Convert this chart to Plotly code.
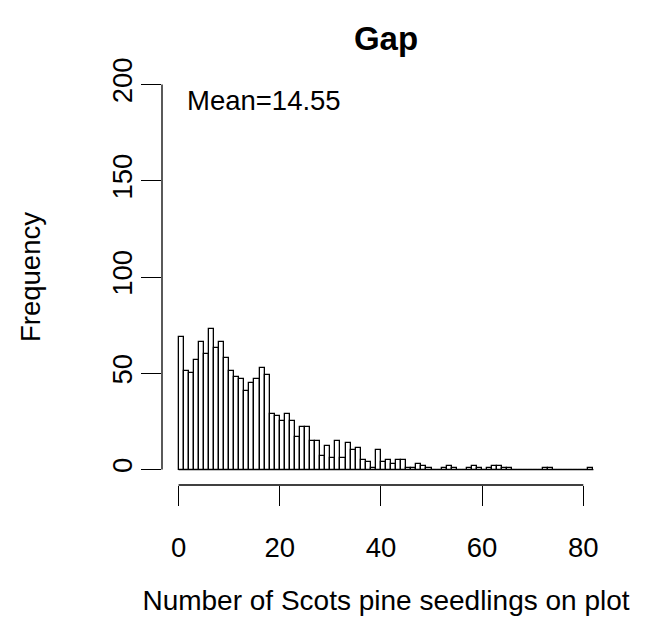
import plotly.graph_objects as go

# Histogram of seedlings per plot (bins of width 1 starting at 0)
bin_start = 0
bin_width = 1
counts = [69, 51, 50, 57, 66, 60, 73, 63, 66, 58,
          51, 48, 47, 41, 45, 47, 53, 49, 29, 28,
          25, 29, 25, 17, 22, 22, 15, 15, 7, 12,
          6, 15, 6, 14, 10, 11, 5, 4, 1, 10,
          4, 5, 3, 5, 5, 1, 1, 3, 2, 1,
          0, 0, 1, 2, 1, 0, 0, 1, 2, 1,
          0, 1, 2, 2, 1, 1, 0, 0, 0, 0,
          0, 0, 1, 1, 0, 0, 0, 0, 0, 0,
          0, 1]
mean_value = 14.55
x_ticks = [0, 20, 40, 60, 80]
y_ticks = [0, 50, 100, 150, 200]
title_text = "Gap"
x_title = "Number of Scots pine seedlings on plot"
y_title = "Frequency"

n_bins = len(counts)
edges = [bin_start + i * bin_width for i in range(n_bins + 1)]
centers = [(edges[i] + edges[i + 1]) / 2 for i in range(n_bins)]

FONT = "Liberation Sans, Arial, sans-serif"
FS = 27.5

fig = go.Figure()
# baseline drawn by zero-height bins in R
fig.add_trace(go.Scatter(x=[edges[0], edges[-1]], y=[0, 0], mode="lines",
                         line=dict(color="black", width=1.3), hoverinfo="skip",
                         showlegend=False))
fig.add_trace(go.Bar(x=centers, y=counts, width=[bin_width] * n_bins,
                     marker=dict(color="white", line=dict(color="black", width=1.3)),
                     showlegend=False))

xr = (edges[-1] - edges[0]) * 0.04
yr = (y_ticks[-1] - y_ticks[0]) * 0.04

fig.update_layout(
    width=664, height=639,
    margin=dict(l=162, r=54, t=69, b=154),
    paper_bgcolor="white", plot_bgcolor="white",
    font=dict(family=FONT, size=FS, color="black"),
    title=dict(text=title_text, x=0.5, xref="paper", y=1 - 38 / 639, yref="container",
               xanchor="center", yanchor="middle",
               font=dict(family=FONT, size=33, weight="bold", color="black")),
    bargap=0,
    xaxis=dict(range=[edges[0] - xr, edges[-1] + xr], tickvals=x_ticks,
               ticks="outside", ticklen=20, tickwidth=1.3, tickcolor="black",
               showline=False, showgrid=False, zeroline=False,
               ticklabelstandoff=18,
               title=dict(text=x_title, standoff=28, font=dict(size=28))),
    yaxis=dict(range=[y_ticks[0] - yr, y_ticks[-1] + yr], tickvals=y_ticks,
               ticks="outside", ticklen=20, tickwidth=1.3, tickcolor="black",
               showline=False, showgrid=False, zeroline=False, tickangle=-90,
               ticklabelstandoff=-2,
               title=dict(text=y_title, standoff=58, font=dict(size=FS))),
    annotations=[dict(text=f"Mean={mean_value}", x=16.9, y=191.5, xref="x", yref="y",
                      xanchor="center", yanchor="middle", showarrow=False,
                      font=dict(size=FS))],
    shapes=[
        dict(type="line", xref="x", yref="paper", x0=x_ticks[0], x1=x_ticks[-1], y0=0, y1=0,
             line=dict(color="black", width=1.3)),
        dict(type="line", xref="paper", yref="y", x0=0, x1=0, y0=y_ticks[0], y1=y_ticks[-1],
             line=dict(color="black", width=1.3)),
    ],
)

fig.write_html("out.html")
